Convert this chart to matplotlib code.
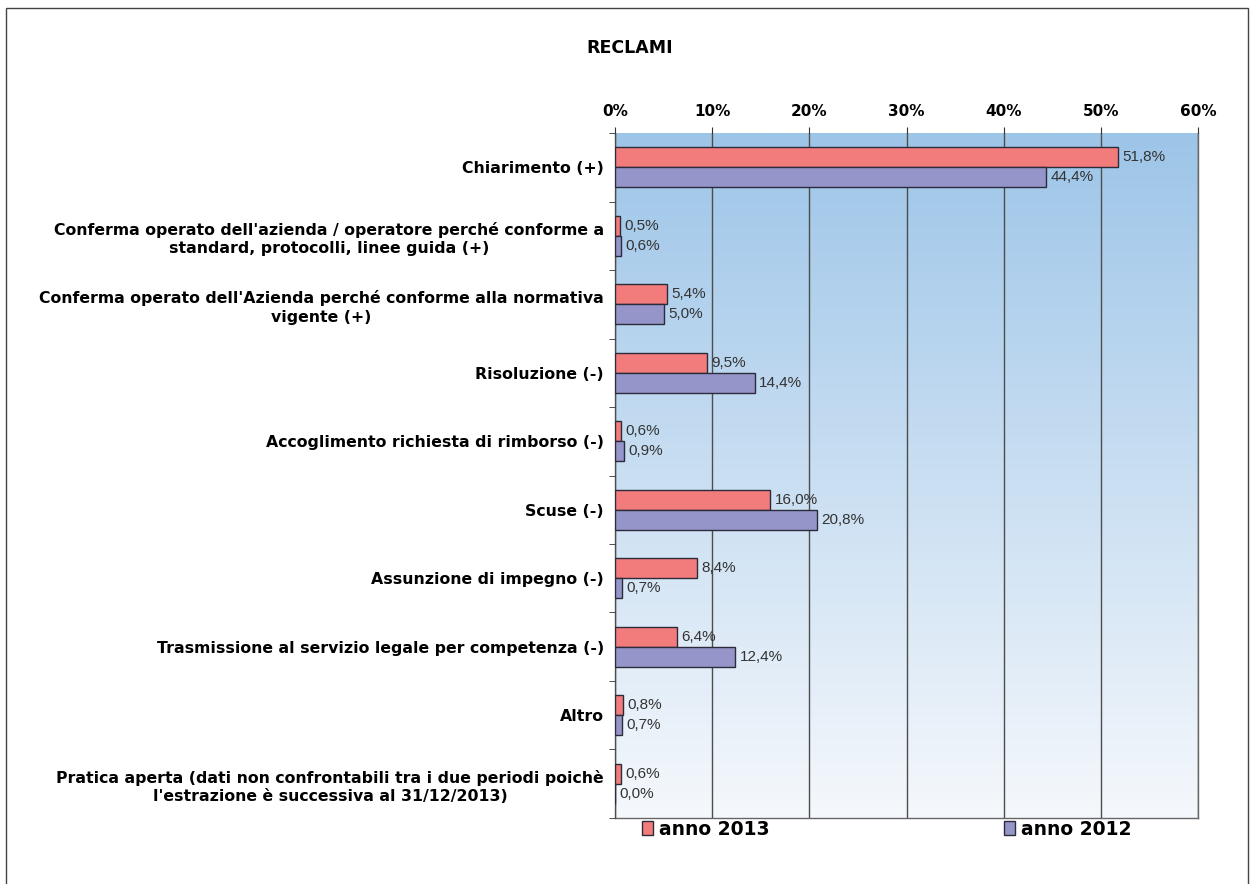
import numpy as np
import matplotlib
matplotlib.use("Agg")
import matplotlib.pyplot as plt
from matplotlib.patches import Rectangle

categories = [
    "Chiarimento (+)",
    "Conferma operato dell'azienda / operatore perché conforme a\nstandard, protocolli, linee guida (+)",
    "Conferma operato dell'Azienda perché conforme alla normativa\nvigente (+)",
    "Risoluzione (-)",
    "Accoglimento richiesta di rimborso (-)",
    "Scuse (-)",
    "Assunzione di impegno (-)",
    "Trasmissione al servizio legale per competenza (-)",
    "Altro",
    "Pratica aperta (dati non confrontabili tra i due periodi poichè\nl'estrazione è successiva al 31/12/2013)",
]
anno_2013 = [51.8, 0.5, 5.4, 9.5, 0.6, 16.0, 8.4, 6.4, 0.8, 0.6]
anno_2012 = [44.4, 0.6, 5.0, 14.4, 0.9, 20.8, 0.7, 12.4, 0.7, 0.0]
xticks = [0, 10, 20, 30, 40, 50, 60]

red = "#F27B7B"
purple = "#9595C9"
edge = "#2b2b3b"

fig = plt.figure(figsize=(12.5, 8.84), dpi=100)
ax = fig.add_axes([0.492, 0.0747, 0.4664, 0.7748])

n = len(categories)
y = np.arange(n)
h = 0.29

# vertical gradient behind the bars
t = np.linspace(0, 1, 256)[:, None, None]
top = np.array([0x9D, 0xC5, 0xE8]) / 255
bot = np.array([0xF5, 0xF8, 0xFC]) / 255
img = top + (bot - top) * t
ax.imshow(img, extent=[0, 60, n - 0.5, -0.5], aspect="auto", zorder=0)

b1 = ax.barh(y - h / 2, anno_2013, height=h, color=red, edgecolor=edge, linewidth=1, zorder=3, label="anno 2013")
b2 = ax.barh(y + h / 2, anno_2012, height=h, color=purple, edgecolor=edge, linewidth=1, zorder=3, label="anno 2012")

for bars, vals in ((b1, anno_2013), (b2, anno_2012)):
    for bar, v in zip(bars, vals):
        ax.text(v + 0.45, bar.get_y() + bar.get_height() / 2, f"{v:.1f}%".replace(".", ","),
                va="center", ha="left", fontsize=11, family="Liberation Sans",
                color="#333333", zorder=4)

ax.set_xlim(0, 60)
ax.set_ylim(n - 0.5, -0.5)
ax.xaxis.tick_top()
ax.set_xticks(xticks)
ax.set_xticklabels([f"{t}%" for t in xticks], fontsize=11, fontweight="bold")
ax.tick_params(axis="x", length=4, color="#333333", pad=6)
ax.grid(axis="x", color="#4d4d4d", linewidth=1, zorder=1)
ax.set_axisbelow(False)

ax.set_yticks(y)
ax.set_yticklabels(categories, fontsize=11.3, fontweight="bold", ha="right",
                   multialignment="center", linespacing=1.3)
ax.tick_params(axis="y", which="major", length=0, pad=8)
ax.set_yticks(np.arange(-0.5, n, 1), minor=True)
ax.tick_params(axis="y", which="minor", length=4, color="#333333")

for s in ax.spines.values():
    s.set_color("#666666")
    s.set_linewidth(1)
ax.spines["top"].set_visible(False)

fig.text(0.504, 0.946, "RECLAMI", ha="center", va="center", fontsize=12.5, fontweight="bold")

fig.legend(handles=[b1, b2], loc="center left", bbox_to_anchor=(0.5, 0.062), ncol=2,
           frameon=False, prop={"weight": "bold", "size": 13.5},
           handlelength=0.6, handleheight=0.8, handletextpad=0.3, columnspacing=12.5)

fig.patches.append(Rectangle((0.005, -0.01), 0.993, 1.001, transform=fig.transFigure,
                             fill=False, edgecolor="#444444", linewidth=1))

fig.savefig("out.png", dpi=100)
